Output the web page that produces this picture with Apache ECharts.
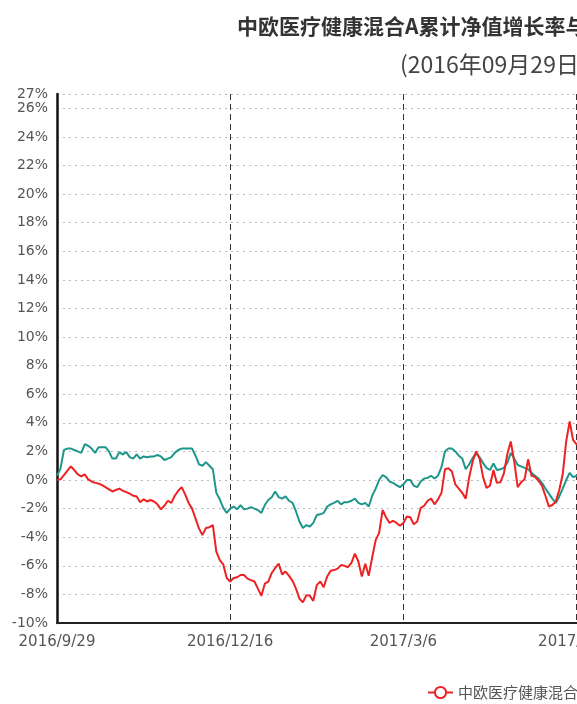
<!DOCTYPE html>
<html>
<head>
<meta charset="utf-8">
<script src="https://cdn.jsdelivr.net/npm/echarts@6/dist/echarts.min.js"></script>
<style>
html,body{margin:0;padding:0;overflow:hidden;background:#fff;width:577px;height:704px;}
#chart{width:600px;height:704px;}
</style>
</head>
<body>
<div id="chart"></div>
<script>
// Trading dates (category axis)
var dates = [
'2016/9/29',
'2016/10/10','2016/10/11','2016/10/12','2016/10/13','2016/10/14','2016/10/17','2016/10/18','2016/10/19','2016/10/20','2016/10/21','2016/10/24','2016/10/25','2016/10/26','2016/10/27','2016/10/28','2016/10/31',
'2016/11/1','2016/11/2','2016/11/3','2016/11/4','2016/11/7','2016/11/8','2016/11/9','2016/11/10','2016/11/11','2016/11/14','2016/11/15','2016/11/16','2016/11/17','2016/11/18','2016/11/21','2016/11/22','2016/11/23','2016/11/24','2016/11/25','2016/11/28','2016/11/29','2016/11/30',
'2016/12/1','2016/12/2','2016/12/5','2016/12/6','2016/12/7','2016/12/8','2016/12/9','2016/12/12','2016/12/13','2016/12/14','2016/12/15','2016/12/16',
'2016/12/19','2016/12/20','2016/12/21','2016/12/22','2016/12/23','2016/12/26','2016/12/27','2016/12/28','2016/12/29','2016/12/30',
'2017/1/3','2017/1/4','2017/1/5','2017/1/6','2017/1/9','2017/1/10','2017/1/11','2017/1/12','2017/1/13','2017/1/16','2017/1/17','2017/1/18','2017/1/19','2017/1/20','2017/1/23','2017/1/24','2017/1/25','2017/1/26',
'2017/2/3','2017/2/6','2017/2/7','2017/2/8','2017/2/9','2017/2/10','2017/2/13','2017/2/14','2017/2/15','2017/2/16','2017/2/17','2017/2/20','2017/2/21','2017/2/22','2017/2/23','2017/2/24','2017/2/27','2017/2/28',
'2017/3/1','2017/3/2','2017/3/3','2017/3/6',
'2017/3/7','2017/3/8','2017/3/9','2017/3/10','2017/3/13','2017/3/14','2017/3/15','2017/3/16','2017/3/17','2017/3/20','2017/3/21','2017/3/22','2017/3/23','2017/3/24','2017/3/27','2017/3/28','2017/3/29','2017/3/30','2017/3/31',
'2017/4/5','2017/4/6','2017/4/7','2017/4/10','2017/4/11','2017/4/12','2017/4/13','2017/4/14','2017/4/17','2017/4/18','2017/4/19','2017/4/20','2017/4/21','2017/4/24','2017/4/25','2017/4/26','2017/4/27','2017/4/28',
'2017/5/2','2017/5/3','2017/5/4','2017/5/5','2017/5/8','2017/5/9','2017/5/10','2017/5/11','2017/5/12','2017/5/15','2017/5/16','2017/5/17','2017/5/18',
'2017/5/19','2017/5/22'
];

// Fund cumulative NAV growth (%)
var fundValues = [
0.0,0.05,0.35,0.65,0.95,0.7,0.4,0.25,0.4,0.05,
-0.1,-0.2,-0.25,-0.35,-0.5,-0.65,-0.8,-0.7,-0.6,-0.75,
-0.85,-0.95,-1.1,-1.15,-1.55,-1.35,-1.5,-1.4,-1.5,-1.7,
-2.05,-1.8,-1.45,-1.6,-1.1,-0.75,-0.5,-1.0,-1.6,-2.0,
-2.7,-3.4,-3.85,-3.35,-3.3,-3.15,-5.0,-5.6,-5.9,-6.85,
-7.1,-6.85,-6.8,-6.64,-6.64,-6.9,-7.0,-7.1,-7.6,-8.1,
-7.25,-7.1,-6.5,-6.15,-5.85,-6.6,-6.4,-6.7,-7.05,-7.6,
-8.3,-8.55,-8.05,-8.1,-8.45,-7.35,-7.1,-7.5,-6.75,-6.35,
-6.3,-6.2,-5.95,-6.0,-6.1,-5.8,-5.15,-5.7,-6.75,-5.85,
-6.7,-5.4,-4.2,-3.7,-2.1,-2.6,-3.0,-2.85,-3.0,-3.2,
-3.0,-2.55,-2.6,-3.1,-2.9,-1.95,-1.8,-1.45,-1.3,-1.7,
-1.35,-0.9,0.75,0.82,0.6,-0.3,-0.6,-0.9,-1.3,0.2,
1.3,2.0,1.5,0.2,-0.55,-0.4,0.7,-0.2,-0.15,0.45,
1.8,2.7,1.3,-0.5,-0.15,0.05,1.45,0.3,0.23,-0.05,
-0.4,-1.1,-1.85,-1.75,-1.5,-0.7,0.4,2.7,4.1,2.8,
2.5,2.6,2.7
];

// Benchmark growth (%)
var benchValues = [
0.3,0.8,2.1,2.2,2.2,2.1,2.0,1.9,2.5,2.4,
2.2,1.9,2.3,2.3,2.3,2.0,1.5,1.5,1.95,1.8,
1.95,1.6,1.5,1.8,1.5,1.65,1.6,1.65,1.65,1.75,
1.65,1.4,1.5,1.6,1.9,2.1,2.2,2.2,2.2,2.2,
1.7,1.1,1.0,1.25,1.0,0.75,-0.9,-1.35,-1.95,-2.3,
-2.0,-1.85,-2.05,-1.75,-2.05,-2.0,-1.9,-2.0,-2.1,-2.3,
-1.75,-1.4,-1.2,-0.8,-1.2,-1.3,-1.15,-1.45,-1.6,-2.2,
-2.9,-3.35,-3.15,-3.25,-3.0,-2.45,-2.4,-2.3,-1.85,-1.7,
-1.6,-1.45,-1.7,-1.55,-1.55,-1.45,-1.3,-1.6,-1.7,-1.6,
-1.85,-1.1,-0.6,0.0,0.35,0.2,-0.1,-0.2,-0.35,-0.5,
-0.3,0.0,0.0,-0.4,-0.5,-0.1,0.1,0.15,0.3,0.1,
0.3,0.9,2.0,2.2,2.2,2.0,1.7,1.5,0.75,1.1,
1.55,1.85,1.6,1.2,0.85,0.7,1.15,0.7,0.75,0.85,
1.2,1.9,1.5,1.05,0.95,0.85,0.75,0.5,0.3,0.1,
-0.2,-0.6,-0.95,-1.3,-1.6,-1.15,-0.6,0.0,0.5,0.2,
0.3,0.5,0.7
];

var seriesNames = ['中欧医疗健康混合A', '业绩比较基准'];
var titleText = '中欧医疗健康混合A累计净值增长率与业绩比较基准收益率对比';
var subTitleText = '(2016年09月29日~2017年05月22日)';

var chart = echarts.init(document.getElementById('chart'));
var labelFont = 'DejaVu Sans';
chart.setOption({
  animation: false,
  title: [
    { text: titleText, left: 232, top: 11,
      textStyle: { fontFamily: 'Noto Sans CJK SC', fontSize: 21, fontWeight: 'bold', color: '#333' } },
    { text: subTitleText, left: 395, top: 48,
      textStyle: { fontFamily: 'Noto Sans CJK SC', fontSize: 23, fontWeight: 'normal', color: '#444' } }
  ],
  legend: {
    left: 422, top: 680,
    itemGap: 20,
    textStyle: { fontFamily: 'Noto Sans CJK SC', fontSize: 15, color: '#555' },
    data: seriesNames
  },
  grid: { left: 57, top: 94, bottom: 81, right: 16.5, containLabel: false, outerBoundsMode: 'none' },
  xAxis: {
    type: 'category',
    data: dates,
    boundaryGap: false,
    axisLine: { onZero: false, lineStyle: { color: '#222', width: 2 } },
    axisTick: { show: false },
    axisLabel: { interval: 49, margin: 12, color: '#555', fontFamily: labelFont, fontSize: 15 },
    splitLine: { show: true, interval: 49, lineStyle: { type: [6, 4], color: '#333', width: 1 } }
  },
  yAxis: {
    type: 'value',
    min: -10, max: 27, interval: 2,
    axisLine: { show: true, lineStyle: { color: '#111', width: 2.5 } },
    axisTick: { show: false },
    axisLabel: { formatter: '{value}%', margin: 9, color: '#555', fontFamily: labelFont, fontSize: 14 },
    splitLine: { show: true, lineStyle: { type: [2, 4], color: '#bbb', width: 1 } }
  },
  series: [
    { name: seriesNames[0], type: 'line', data: fundValues, symbol: 'emptyCircle', symbolSize: 9, showSymbol: false,
      lineStyle: { color: '#ee2222', width: 2 }, itemStyle: { color: '#ee2222', borderWidth: 2 }, z: 3 },
    { name: seriesNames[1], type: 'line', data: benchValues, symbol: 'emptyCircle', symbolSize: 9, showSymbol: false,
      lineStyle: { color: '#1f968b', width: 2 }, itemStyle: { color: '#1f968b', borderWidth: 2 }, z: 2 }
  ]
});
</script>
</body>
</html>
